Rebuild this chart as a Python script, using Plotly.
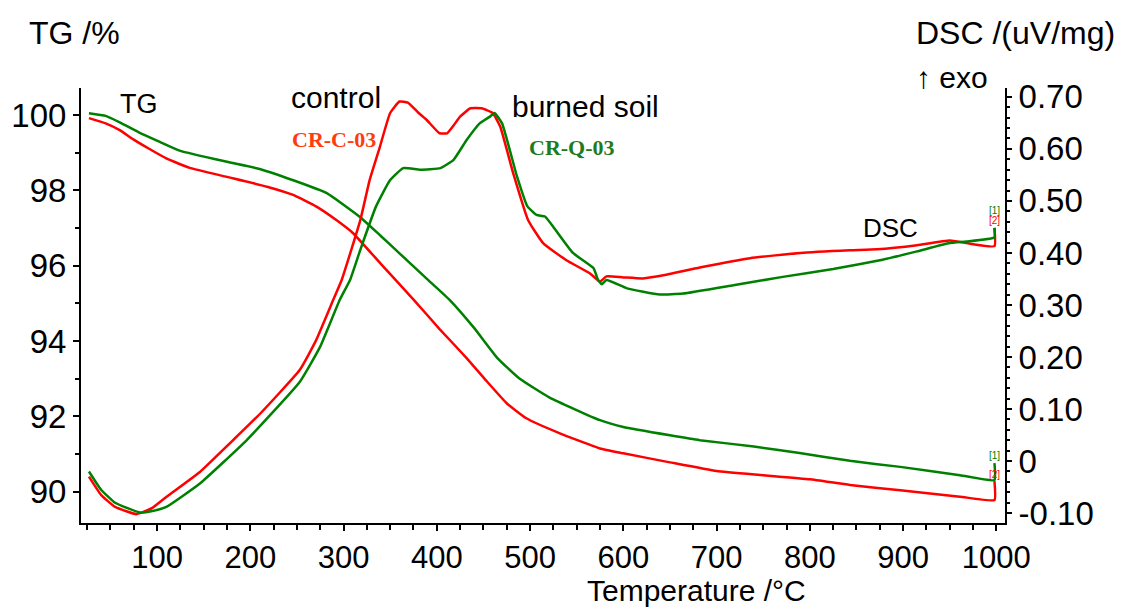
import plotly.graph_objects as go

# ---------------- data ----------------
# TG curves  (temperature /°C, mass /%)
tg_red_T = [27, 45, 60, 75, 92, 110, 135, 175, 218, 246, 271, 293, 310, 340, 377, 403, 432, 453, 475, 496, 532, 575, 600, 650, 700, 750, 800, 843, 897, 961, 998]
tg_red_v = [99.92, 99.78, 99.6, 99.35, 99.1, 98.85, 98.6, 98.36, 98.1, 97.88, 97.57, 97.2, 96.87, 96.05, 95.05, 94.32, 93.55, 92.95, 92.35, 91.95, 91.55, 91.15, 91.02, 90.78, 90.55, 90.44, 90.33, 90.18, 90.04, 89.87, 89.78]

tg_green_T = [27, 45, 60, 80, 103, 125, 175, 210, 246, 282, 318, 340, 360, 390, 414, 440, 465, 489, 521, 575, 600, 650, 682, 740, 789, 843, 897, 961, 998]
tg_green_v = [100.05, 99.98, 99.81, 99.55, 99.29, 99.05, 98.76, 98.57, 98.27, 97.93, 97.29, 96.79, 96.33, 95.64, 95.09, 94.35, 93.55, 93.0, 92.5, 91.9, 91.72, 91.5, 91.37, 91.2, 91.03, 90.82, 90.66, 90.44, 90.31]

# DSC curves (temperature /°C, uV/mg)
dsc_red_T = [27, 40, 55, 78, 95, 110, 146, 178, 210, 253, 270, 289, 298, 318, 328, 339, 350, 360, 369, 380, 389, 403, 411, 418, 425, 436, 448, 460, 468, 482, 498, 514, 539, 564, 575, 582, 600, 621, 646, 682, 736, 790, 843, 872, 915, 950, 968, 998]
dsc_red_v = [-0.03, -0.065, -0.088, -0.102, -0.09, -0.069, -0.021, 0.034, 0.09, 0.175, 0.23, 0.31, 0.348, 0.463, 0.54, 0.604, 0.669, 0.691, 0.689, 0.67, 0.656, 0.63, 0.63, 0.645, 0.662, 0.678, 0.678, 0.669, 0.643, 0.553, 0.463, 0.419, 0.386, 0.361, 0.345, 0.355, 0.353, 0.351, 0.358, 0.372, 0.39, 0.40, 0.405, 0.407, 0.415, 0.424, 0.419, 0.413]

dsc_green_T = [27, 40, 55, 82, 95, 110, 146, 196, 253, 275, 296, 307, 318, 335, 350, 364, 382, 404, 418, 432, 446, 457, 462, 470, 486, 497, 507, 516, 525, 546, 568, 573, 577, 582, 604, 639, 664, 718, 771, 825, 878, 915, 950, 968, 998]
dsc_green_v = [-0.02, -0.055, -0.08, -0.099, -0.096, -0.088, -0.043, 0.04, 0.152, 0.22, 0.31, 0.348, 0.406, 0.49, 0.54, 0.563, 0.56, 0.563, 0.579, 0.617, 0.649, 0.662, 0.669, 0.649, 0.547, 0.49, 0.473, 0.47, 0.45, 0.40, 0.371, 0.348, 0.340, 0.348, 0.332, 0.32, 0.322, 0.338, 0.354, 0.369, 0.387, 0.403, 0.419, 0.422, 0.43]

# end-of-curve markers [1]/[2]: top of the short vertical stroke and label level
tg_marker_top = {"green": 90.76, "red": 90.28}
tg_label_level = {"green": 90.95, "red": 90.47}
dsc_marker_top = {"green": 0.448, "red": 0.448}
dsc_label_level = {"green": 0.481, "red": 0.462}

x_ticks = [100, 200, 300, 400, 500, 600, 700, 800, 900, 1000]
tg_ticks = [90, 92, 94, 96, 98, 100]
dsc_ticks = [-0.10, 0, 0.10, 0.20, 0.30, 0.40, 0.50, 0.60, 0.70]
dsc_ticktext = ["-0.10", "0", "0.10", "0.20", "0.30", "0.40", "0.50", "0.60", "0.70"]

# ---------------- styles ----------------
RED = "#FF0000"
GREEN = "#008000"
FONT = "Liberation Sans"
LW = 2.5

fig = go.Figure()

def add_curve(T, v, color, axis, end_top):
    xs = list(T) + [T[-1]]
    ys = list(v) + [end_top]
    fig.add_trace(go.Scatter(x=xs, y=ys, mode="lines", yaxis=axis,
                             line=dict(color=color, width=LW, shape="spline", smoothing=0.4),
                             showlegend=False, hoverinfo="skip"))

add_curve(tg_red_T, tg_red_v, RED, "y", tg_marker_top["red"])
add_curve(tg_green_T, tg_green_v, GREEN, "y", tg_marker_top["green"])
add_curve(dsc_red_T, dsc_red_v, RED, "y2", dsc_marker_top["red"])
add_curve(dsc_green_T, dsc_green_v, GREEN, "y2", dsc_marker_top["green"])

ann = []
def txt(x, y, s, size, color="black", xref="x", yref="y", xanchor="center", family=FONT):
    ann.append(dict(x=x, y=y, xref=xref, yref=yref, text=s, showarrow=False,
                    xanchor=xanchor, yanchor="middle",
                    font=dict(family=family, size=size, color=color)))

# in-plot labels
txt(81, 100.29, "TG", 27)
txt(292, 100.48, "control", 30)
txt(290, 99.36, "<b>CR-C-03</b>", 22, color="#FF3B10", family="Liberation Serif")
txt(559, 100.24, "burned soil", 30)
txt(545, 99.15, "<b>CR-Q-03</b>", 22, color="#1E7B1E", family="Liberation Serif")
txt(887, 0.448, "DSC", 26, yref="y2")
# end markers
txt(tg_green_T[-1], tg_label_level["green"], "[1]", 10, color=GREEN)
txt(tg_red_T[-1], tg_label_level["red"], "[2]", 10, color=RED)
txt(dsc_green_T[-1], dsc_label_level["green"], "[1]", 10, color=GREEN, yref="y2")
txt(dsc_red_T[-1], dsc_label_level["red"], "[2]", 10, color=RED, yref="y2")
# axis titles
txt(-0.058, 1.126, "TG /%", 32, xref="paper", yref="paper", xanchor="left")
txt(1.121, 1.126, "DSC /(uV/mg)", 32, xref="paper", yref="paper", xanchor="right")
txt(0.984, 1.023, "↑ exo", 30, xref="paper", yref="paper", xanchor="right")
txt(0.666, -0.155, "Temperature /°C", 30, xref="paper", yref="paper")

axis_common = dict(showline=True, linecolor="black", linewidth=2, showgrid=False,
                   zeroline=False, ticks="outside", tickcolor="black", tickwidth=2)

fig.update_layout(
    width=1122, height=608,
    margin=dict(l=81, r=117, t=88, b=85),
    paper_bgcolor="white", plot_bgcolor="white",
    showlegend=False,
    annotations=ann,
    xaxis=dict(range=[18.5, 1009.3], tickvals=x_ticks, ticklen=6,
               tickfont=dict(family=FONT, size=31, color="black"),
               minor=dict(tickvals=list(range(25, 1001, 25)), ticks="outside", ticklen=5,
                          tickwidth=1.5, tickcolor="black"),
               **axis_common),
    yaxis=dict(range=[89.17, 100.72], tickvals=tg_ticks, ticklen=6,
               tickfont=dict(family=FONT, size=33, color="black"),
               minor=dict(tickvals=list(range(90, 101)), ticks="outside", ticklen=4,
                          tickwidth=1.5, tickcolor="black"),
               **axis_common),
    yaxis2=dict(range=[-0.119, 0.717], overlaying="y", side="right", anchor="x",
                tickvals=dsc_ticks, ticktext=dsc_ticktext, ticklen=5,
                tickfont=dict(family=FONT, size=33, color="black"),
                minor=dict(tickvals=[round(-0.1 + 0.02 * i, 2) for i in range(41)],
                           ticks="outside", ticklen=3, tickwidth=1.5, tickcolor="black"),
                **axis_common),
)

fig.write_html("out.html")
